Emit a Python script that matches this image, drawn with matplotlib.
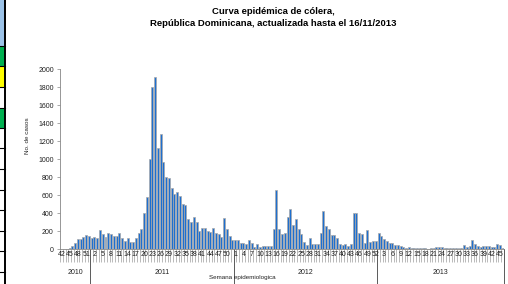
import numpy as np
import matplotlib
matplotlib.use("Agg")
import matplotlib.pyplot as plt
from matplotlib.patches import Rectangle
from matplotlib.transforms import blended_transform_factory

plt.rcParams['font.family'] = ['Liberation Sans', 'DejaVu Sans']

# weekly cholera cases
years = ['2010', '2011', '2012', '2013']
weeks_2010 = list(range(42, 53))
weeks_2011 = list(range(1, 53))
weeks_2012 = list(range(1, 53))
weeks_2013 = list(range(1, 47))

cases_2010 = [2, 3, 5, 8, 33, 70, 107, 107, 130, 155, 148]
cases_2011 = [118, 137, 118, 207, 170, 137, 181, 163, 144, 148,
              174, 126, 92, 118, 78, 81, 118, 181, 222, 396,
              581, 1000, 1800, 1907, 1118, 1274, 970, 796, 785, 674,
              607, 637, 589, 500, 489, 330, 296, 352, 296, 200,
              230, 237, 204, 192, 237, 181, 163, 137, 348, 220,
              140, 105]
cases_2012 = [105, 105, 72, 72, 52, 100, 72, 26, 52, 26,
              30, 33, 30, 30, 222, 656, 218, 163, 174, 352,
              440, 263, 330, 218, 163, 74, 44, 126, 52, 52,
              52, 181, 422, 255, 222, 152, 152, 118, 52, 44,
              52, 33, 52, 396, 396, 181, 167, 70, 207, 78,
              90, 90]
cases_2013 = [174, 150, 115, 92, 70, 63, 48, 40, 33, 22,
              15, 22, 12, 12, 10, 8, 8, 8, 5, 8,
              12, 18, 22, 22, 15, 8, 8, 10, 15, 15,
              10, 48, 25, 35, 105, 55, 35, 22, 30, 33,
              30, 25, 22, 52, 40, 15]

weeks = weeks_2010 + weeks_2011 + weeks_2012 + weeks_2013
cases = cases_2010 + cases_2011 + cases_2012 + cases_2013
year_sizes = [len(weeks_2010), len(weeks_2011), len(weeks_2012), len(weeks_2013)]

W, H = 508, 284
fig = plt.figure(figsize=(W / 100, H / 100), dpi=100)

# bits of a cropped table on the left edge
for y0, y1, col in [(0, 46, '#9cc3e8'), (46, 66, '#00b050'),
                    (66, 87, '#ffff00'), (108, 128, '#00b050')]:
    fig.add_artist(Rectangle((0, 1 - y1 / H), 4.5 / W, (y1 - y0) / H,
                             transform=fig.transFigure, color=col, lw=0))
fig.add_artist(plt.Line2D([4.8 / W, 4.8 / W], [0, 1], transform=fig.transFigure,
                          color='black', lw=1.4))
for yl in [46, 66, 87, 108, 128, 148, 169, 190, 210, 231, 251, 272]:
    fig.add_artist(plt.Line2D([0, 5 / W], [1 - yl / H, 1 - yl / H],
                              transform=fig.transFigure, color='black', lw=0.8))

ax = fig.add_axes([60 / W, 1 - 249 / H, 444 / W, 180 / H])
x = np.arange(len(cases))
ax.bar(x, cases, width=0.72, color='#1e6fcf', edgecolor='#a9a9a9', linewidth=0.5)

ax.set_xlim(-0.5, len(cases) - 0.5)
ax.set_ylim(0, 2000)
ax.set_yticks(range(0, 2001, 200))
ax.tick_params(axis='y', labelsize=5, length=2.5, width=0.5, color='#868686',
               pad=2, labelcolor='#222222')
for s in ['top', 'right']:
    ax.spines[s].set_visible(False)
for s in ['left', 'bottom']:
    ax.spines[s].set_color('#868686')
    ax.spines[s].set_linewidth(0.6)

# category axis: ticks between each week, label every third week
ax.set_xticks(np.arange(len(cases) + 1) - 0.5)
ax.set_xticklabels([])
ax.tick_params(axis='x', length=9.4, width=0.4, color='#868686')
tr = blended_transform_factory(ax.transData, ax.transAxes)
for i in range(0, len(cases), 3):
    ax.text(i, -0.028, str(weeks[i]), transform=tr, ha='center', va='center',
            fontsize=5, color='#222222')

# year groups
start = 0
for yr, n in zip(years, year_sizes):
    end = start + n
    ax.text((start + end - 1) / 2, -0.13, yr, transform=tr, ha='center',
            va='center', fontsize=5, color='#222222')
    ax.plot([end - 0.5, end - 0.5], [0, -0.2], transform=tr, clip_on=False,
            color='#5a5a5a', lw=0.7)
    start = end

fig.text(242.5 / W, 1 - 277.5 / H, 'Semana epidemiologica', ha='center',
         va='center', fontsize=4.5, color='#222222')
fig.text(27.5 / W, 1 - 136 / H, 'No. de casos', rotation=90, ha='center',
         va='center', fontsize=4.5, color='#222222')

fig.text(273 / W, 1 - 11 / H, 'Curva epidémica de cólera,', ha='center',
         va='center', fontsize=6.8, fontweight='bold')
fig.text(273 / W, 1 - 24 / H, 'República Dominicana, actualizada hasta el 16/11/2013',
         ha='center', va='center', fontsize=6.8, fontweight='bold')

fig.savefig('out.png', dpi=100)
